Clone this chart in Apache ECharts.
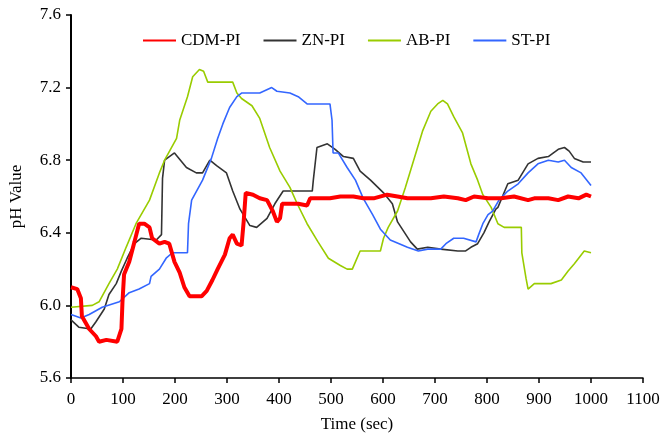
<!DOCTYPE html>
<html>
<head>
<meta charset="utf-8">
<script src="https://cdn.jsdelivr.net/npm/echarts@6/dist/echarts.min.js"></script>
<style>html,body{margin:0;padding:0;background:#fff}#c{width:666px;height:439px}</style>
</head>
<body>
<div id="c"></div>
<script>
const seriesNames = ['CDM-PI', 'ZN-PI', 'AB-PI', 'ST-PI'];
const xTicks = [0, 100, 200, 300, 400, 500, 600, 700, 800, 900, 1000, 1100];
const yTicks = [5.6, 6.0, 6.4, 6.8, 7.2, 7.6];

const cdmTime = [0,12,19,21,35,48,54,68,89,97,99,102,112,122,131,141,151,156,170,180,189,199,209,218,228,251,261,272,282,296,305,311,319,328,332,336,350,363,377,388,396,402,406,421,437,454,460,479,498,518,543,562,582,608,628,647,666,692,717,744,759,775,802,827,852,879,891,918,937,956,976,991,1000];
const cdmPH   = [6.10,6.09,6.04,5.94,5.87,5.83,5.80,5.81,5.80,5.87,6.02,6.17,6.24,6.35,6.45,6.45,6.43,6.37,6.34,6.35,6.34,6.24,6.18,6.10,6.05,6.05,6.08,6.14,6.20,6.28,6.37,6.39,6.34,6.33,6.46,6.62,6.61,6.59,6.58,6.52,6.46,6.48,6.56,6.56,6.56,6.55,6.59,6.59,6.59,6.60,6.60,6.59,6.59,6.61,6.60,6.59,6.59,6.59,6.60,6.59,6.58,6.60,6.59,6.59,6.60,6.58,6.59,6.59,6.58,6.60,6.59,6.61,6.60];

const znTime = [0,15,38,48,64,73,87,97,108,122,135,164,174,176,180,199,222,241,253,267,280,299,311,325,344,357,377,392,408,464,466,473,493,508,524,543,556,576,601,618,628,653,666,686,711,744,759,769,782,794,804,817,821,840,860,879,898,918,937,949,958,968,985,1000];
const znPH   = [5.92,5.88,5.87,5.91,5.98,6.06,6.12,6.19,6.26,6.34,6.37,6.36,6.39,6.70,6.80,6.84,6.76,6.73,6.73,6.80,6.77,6.73,6.63,6.53,6.44,6.43,6.48,6.56,6.63,6.63,6.69,6.87,6.89,6.86,6.82,6.81,6.74,6.69,6.62,6.56,6.46,6.35,6.31,6.32,6.31,6.30,6.30,6.32,6.34,6.40,6.46,6.53,6.54,6.67,6.69,6.78,6.81,6.82,6.86,6.87,6.85,6.81,6.79,6.79];

const abTime = [0,41,54,73,89,106,125,151,170,180,203,209,224,234,247,255,263,286,311,319,328,348,363,382,402,421,435,454,475,495,518,531,541,547,556,595,601,610,628,643,659,676,692,705,715,724,736,753,769,782,792,808,821,833,866,867,875,879,891,910,923,943,956,968,987,1000];
const abPH   = [5.99,6.00,6.02,6.12,6.20,6.32,6.45,6.58,6.73,6.80,6.92,7.02,7.15,7.26,7.30,7.29,7.23,7.23,7.23,7.17,7.14,7.10,7.03,6.87,6.74,6.65,6.56,6.45,6.35,6.26,6.22,6.20,6.20,6.24,6.30,6.30,6.37,6.43,6.52,6.65,6.80,6.96,7.07,7.11,7.13,7.11,7.04,6.95,6.78,6.69,6.61,6.54,6.45,6.43,6.43,6.29,6.15,6.09,6.12,6.12,6.12,6.14,6.19,6.23,6.30,6.29];

const stTime = [0,19,35,60,93,112,131,151,154,170,183,195,224,226,232,253,270,282,292,305,319,328,363,386,396,421,437,454,498,502,504,514,531,547,562,580,595,614,647,668,686,711,721,736,755,779,784,792,802,811,823,840,860,879,898,918,937,949,962,981,1000];
const stPH   = [5.95,5.93,5.95,5.99,6.02,6.07,6.09,6.12,6.16,6.20,6.26,6.29,6.29,6.45,6.58,6.69,6.81,6.92,7.00,7.09,7.15,7.17,7.17,7.20,7.18,7.17,7.15,7.11,7.11,7.02,6.84,6.84,6.76,6.69,6.59,6.50,6.42,6.36,6.32,6.30,6.31,6.31,6.34,6.37,6.37,6.35,6.39,6.45,6.50,6.52,6.58,6.63,6.67,6.73,6.78,6.80,6.79,6.80,6.76,6.73,6.66];

const pair = (t, v) => t.map((x, i) => [x, v[i]]);
const FONT = 'Liberation Serif';
const colors = ['#ff0000', '#333333', '#99cc00', '#3366ff'];
const widths = [4, 1.6, 1.6, 1.6];
const datas = [pair(cdmTime, cdmPH), pair(znTime, znPH), pair(abTime, abPH), pair(stTime, stPH)];

const series = seriesNames.map((n, i) => ({
  name: n, type: 'line', data: datas[i], showSymbol: false, symbol: 'none',
  lineStyle: { color: colors[i], width: widths[i] }, itemStyle: { color: colors[i] },
  z: i === 0 ? 5 : 2, animation: false
}));

const chart = echarts.init(document.getElementById('c'), null, { renderer: 'canvas' });
chart.setOption({
  animation: false,
  backgroundColor: '#fff',
  grid: { left: 71, right: 23, top: 15, bottom: 61, containLabel: false },
  legend: {
    data: seriesNames, left: 137, top: 27, itemWidth: 33, itemHeight: 12, itemGap: 22,
    itemStyle: { opacity: 0 },
    textStyle: { fontFamily: FONT, fontSize: 17, color: '#000' }
  },
  xAxis: {
    type: 'value', min: 0, max: 1100, interval: 100,
    name: 'Time (sec)', nameLocation: 'middle', nameGap: 38,
    nameTextStyle: { fontFamily: FONT, fontSize: 17, color: '#000' },
    axisLine: { show: true, onZero: false, lineStyle: { color: '#000', width: 1.5 } },
    axisTick: { show: true, length: 5, lineStyle: { color: '#000', width: 1.5 } },
    axisLabel: { fontFamily: FONT, fontSize: 17, color: '#000', margin: 13, formatter: v => xTicks.includes(v) ? String(v) : '' },
    splitLine: { show: false }
  },
  yAxis: {
    type: 'value', min: 5.6, max: 7.6, interval: 0.4,
    name: 'pH Value', nameLocation: 'middle', nameGap: 46,
    nameTextStyle: { fontFamily: FONT, fontSize: 17, color: '#000' },
    axisLine: { show: true, lineStyle: { color: '#000', width: 2 } },
    axisTick: { show: true, length: 5, lineStyle: { color: '#000', width: 1.5 } },
    axisLabel: { fontFamily: FONT, fontSize: 17, color: '#000', margin: 10, formatter: v => v.toFixed(1) },
    splitLine: { show: false }
  },
  series: series
});
</script>
</body>
</html>
